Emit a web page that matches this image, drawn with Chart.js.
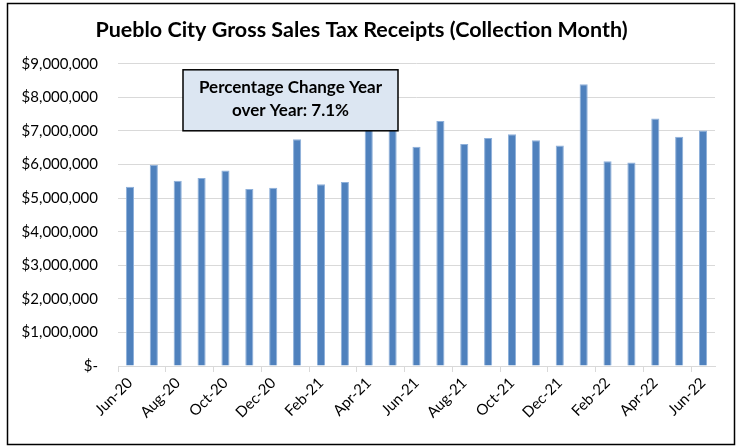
<!DOCTYPE html>
<html>
<head>
<meta charset="utf-8">
<script src="https://cdn.jsdelivr.net/npm/chart.js@4"></script>
<style>
  html, body { margin: 0; padding: 0; background: #fff; }
  #wrap { width: 738px; height: 447px; }
</style>
</head>
<body>
<div id="wrap"><canvas id="salesChart" width="738" height="447"></canvas></div>
<script>
const months = ['Jun-20', 'Jul-20', 'Aug-20', 'Sep-20', 'Oct-20', 'Nov-20', 'Dec-20',
    'Jan-21', 'Feb-21', 'Mar-21', 'Apr-21', 'May-21', 'Jun-21', 'Jul-21', 'Aug-21',
    'Sep-21', 'Oct-21', 'Nov-21', 'Dec-21', 'Jan-22', 'Feb-22', 'Mar-22', 'Apr-22',
    'May-22', 'Jun-22'];
const receipts = [5340000, 5990000, 5520000, 5600000, 5820000, 5270000, 5310000,
    6750000, 5410000, 5480000, 7600000, 7450000, 6530000, 7300000, 6610000,
    6790000, 6900000, 6720000, 6570000, 8390000, 6100000, 6060000, 7370000,
    6830000, 7010000];
const yTicks = [0, 1000000, 2000000, 3000000, 4000000, 5000000, 6000000, 7000000, 8000000, 9000000];
const titleText = 'Pueblo City Gross Sales Tax Receipts (Collection Month)';
const noteLines = ['Percentage Change Year', 'over Year: 7.1%'];

const FONT = 'Lato, "Open Sans", sans-serif';

function money(v) {
    if (v === 0) return '$-';
    return '$' + v.toLocaleString('en-US');
}

// white page + thin frame around everything
const framePlugin = {
    id: 'frame',
    beforeDraw(chart) {
        const ctx = chart.ctx;
        ctx.save();
        ctx.fillStyle = '#fff';
        ctx.fillRect(0, 0, chart.width, chart.height);
        ctx.restore();
    },
    afterDraw(chart) {
        const ctx = chart.ctx;
        ctx.save();
        ctx.strokeStyle = '#000';
        ctx.lineWidth = 1.5;
        ctx.strokeRect(7.5, 3.5, chart.width - 11, chart.height - 6);
        ctx.restore();
    }
};

// the text box in the upper left of the plot
const notePlugin = {
    id: 'note',
    afterDatasetsDraw(chart) {
        const ctx = chart.ctx;
        const area = chart.chartArea;
        const x = area.left + 65, y = area.top + 6, w = 215, h = 61;
        ctx.save();
        ctx.fillStyle = '#dce6f2';
        ctx.fillRect(x, y, w, h);
        ctx.strokeStyle = '#000';
        ctx.lineWidth = 1.5;
        ctx.strokeRect(x, y, w, h);
        ctx.fillStyle = '#000';
        ctx.font = 'bold 17px ' + FONT;
        ctx.textAlign = 'center';
        ctx.textBaseline = 'middle';
        ctx.fillText(noteLines[0], x + w / 2, y + 18);
        ctx.fillText(noteLines[1], x + w / 2, y + 41);
        ctx.restore();
    }
};

const ctx = document.getElementById('salesChart').getContext('2d');
new Chart(ctx, {
    type: 'bar',
    data: {
        labels: months,
        datasets: [{
            data: receipts,
            backgroundColor: '#4f81bd',
            borderColor: '#8eb0da',
            borderWidth: { top: 1, left: 1, right: 1, bottom: 0 },
            barPercentage: 0.34,
            categoryPercentage: 1
        }]
    },
    options: {
        responsive: false,
        animation: false,
        layout: { padding: { top: 4, left: 8, right: 23, bottom: 6 } },
        plugins: {
            legend: { display: false },
            tooltip: { enabled: false },
            title: {
                display: true,
                text: titleText,
                color: '#000',
                font: { family: FONT, size: 21.5, weight: 'bold' },
                padding: { top: 13, bottom: 21 }
            }
        },
        scales: {
            x: {
                offset: true,
                grid: {
                    offset: true,
                    drawOnChartArea: false,
                    drawTicks: true,
                    tickLength: 6,
                    color: c => (c.index % 2 === 0 ? '#d9d9d9' : 'rgba(0,0,0,0)')
                },
                border: { color: '#d9d9d9', width: 1 },
                ticks: {
                    autoSkip: false,
                    minRotation: 45,
                    maxRotation: 45,
                    padding: 2,
                    color: '#000',
                    font: { family: FONT, size: 15 },
                    callback: function (v, i) { return i % 2 === 0 ? this.getLabelForValue(v) : ''; }
                },
                afterFit: s => { s.height = 75; }
            },
            y: {
                min: 0,
                max: 9000000,
                afterBuildTicks: s => { s.ticks = yTicks.map(v => ({ value: v })); },
                grid: { color: '#d9d9d9', drawTicks: false },
                border: { display: false },
                ticks: {
                    padding: 20,
                    color: '#000',
                    font: { family: FONT, size: 15 },
                    callback: v => money(v)
                },
                afterFit: s => { s.width = 110; }
            }
        }
    },
    plugins: [framePlugin, notePlugin]
});
</script>
</body>
</html>
